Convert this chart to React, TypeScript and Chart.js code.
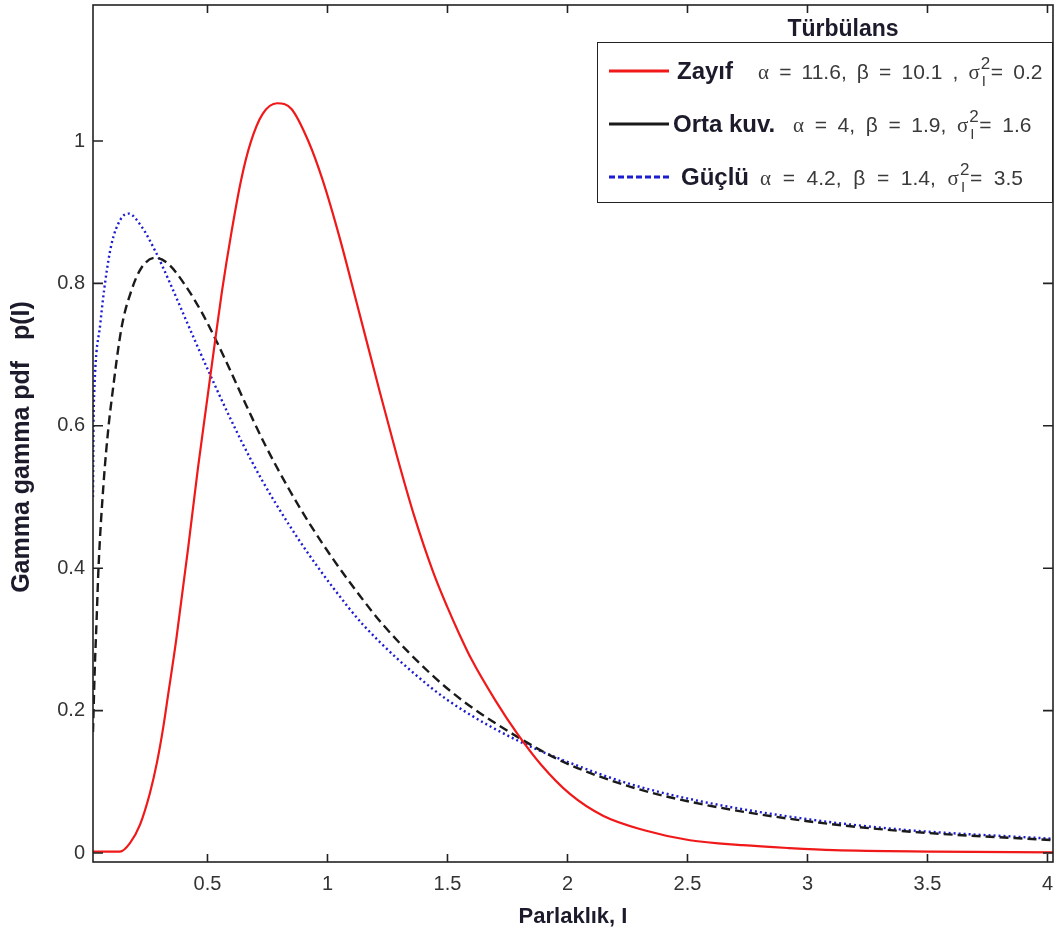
import React, { useEffect, useRef } from "react";
import { Chart, registerables } from "chart.js";

Chart.register(...registerables);

// ---------- data ----------
const xTicks = [0.5, 1, 1.5, 2, 2.5, 3, 3.5, 4];
const xTickLabels = ["0.5", "1", "1.5", "2", "2.5", "3", "3.5", "4"];
const yTicks = [0, 0.2, 0.4, 0.6, 0.8, 1];
const yTickLabels = ["0", "0.2", "0.4", "0.6", "0.8", "1"];

const seriesNames = ["Zayıf", "Orta kuv.", "Güçlü"];
const alphas = ["11.6", "4", "4.2"];
const betas = ["10.1", "1.9", "1.4"];
const sigmas = ["0.2", "1.6", "3.5"];

const xTitle = "Parlaklık, I";
const yTitle = "Gamma gamma pdf   p(I)";
const legendTitle = "Türbülans";

const zayifX = [0.023, 0.135, 0.177, 0.219, 0.26, 0.29, 0.315, 0.335, 0.37, 0.42, 0.46, 0.5, 0.53, 0.56, 0.6, 0.64, 0.68, 0.73, 0.79, 0.85, 0.92, 0.98, 1.05, 1.12, 1.22, 1.29, 1.36, 1.44, 1.5, 1.55, 1.6, 1.7, 1.79, 1.89, 2.01, 2.15, 2.32, 2.51, 2.73, 2.92, 3.11, 3.52, 4.023];
const zayifY = [0.002, 0.002, 0.014, 0.04, 0.084, 0.128, 0.175, 0.22, 0.3, 0.43, 0.54, 0.64, 0.715, 0.788, 0.872, 0.945, 0.998, 1.038, 1.053, 1.045, 1.0, 0.945, 0.865, 0.775, 0.645, 0.557, 0.475, 0.395, 0.345, 0.307, 0.272, 0.214, 0.168, 0.124, 0.083, 0.052, 0.032, 0.018, 0.011, 0.007, 0.004, 0.002, 0.001];

const ortaX = [0.023, 0.03, 0.038, 0.046, 0.067, 0.088, 0.1, 0.142, 0.183, 0.225, 0.283, 0.338, 0.408, 0.475, 0.533, 0.588, 0.642, 0.742, 0.838, 0.921, 1.025, 1.138, 1.233, 1.429, 1.567, 1.792, 1.983, 2.263, 2.554, 2.971, 3.388, 4.023];
const ortaY = [0.17, 0.255, 0.327, 0.401, 0.519, 0.6, 0.635, 0.738, 0.79, 0.822, 0.836, 0.827, 0.797, 0.76, 0.722, 0.683, 0.643, 0.572, 0.512, 0.465, 0.412, 0.36, 0.32, 0.252, 0.213, 0.163, 0.128, 0.093, 0.069, 0.046, 0.031, 0.018];

const gucluX = [0.023, 0.025, 0.028, 0.054, 0.075, 0.1, 0.138, 0.171, 0.225, 0.283, 0.338, 0.392, 0.45, 0.504, 0.558, 0.642, 0.725, 0.838, 0.921, 1.025, 1.15, 1.429, 1.567, 1.792, 2.0, 2.26, 2.55, 2.97, 3.39, 4.023];
const gucluY = [0.5, 0.6, 0.645, 0.745, 0.805, 0.855, 0.89, 0.898, 0.88, 0.845, 0.805, 0.763, 0.718, 0.677, 0.637, 0.578, 0.525, 0.462, 0.42, 0.372, 0.32, 0.233, 0.2, 0.158, 0.128, 0.097, 0.073, 0.049, 0.033, 0.02];

// ---------- styles ----------
const SANS = "'Liberation Sans', Arial, sans-serif";
const SERIF = "'Liberation Serif', 'DejaVu Serif', serif";
const seriesColors = ["#f01818", "#1a1a1a", "#1c1cd2"];
const TITLE_COLOR = "#1b1b2b";

const framePlugin = {
  id: "frameTicks",
  afterDatasetsDraw(chart: any) {
    const { ctx, chartArea: a, scales } = chart;
    ctx.save();
    ctx.strokeStyle = "#222";
    ctx.lineWidth = 1.6;
    ctx.strokeRect(a.left, a.top, a.right - a.left, a.bottom - a.top);
    ctx.beginPath();
    for (const v of xTicks) {
      const px = scales.x.getPixelForValue(v);
      ctx.moveTo(px, a.bottom);
      ctx.lineTo(px, a.bottom - 8);
      ctx.moveTo(px, a.top);
      ctx.lineTo(px, a.top + 8);
    }
    for (const v of yTicks) {
      const py = scales.y.getPixelForValue(v);
      ctx.moveTo(a.left, py);
      ctx.lineTo(a.left + 10, py);
      ctx.moveTo(a.right, py);
      ctx.lineTo(a.right - 10, py);
    }
    ctx.stroke();
    // y axis title
    ctx.translate(22, 447);
    ctx.rotate(-Math.PI / 2);
    ctx.font = "bold 25px " + SANS;
    ctx.fillStyle = TITLE_COLOR;
    ctx.textAlign = "center";
    ctx.textBaseline = "middle";
    ctx.fillText(yTitle, 0, 0);
    ctx.restore();
  },
};

function makeData(xs: number[], ys: number[]) {
  return xs.map((x, i) => ({ x, y: ys[i] }));
}

function LegendSample({ color, dash }: { color: string; dash?: string }) {
  return (
    <svg width={60} height={6} style={{ display: "block" }}>
      <line x1={0} y1={3} x2={60} y2={3} stroke={color} strokeWidth={3} strokeDasharray={dash} />
    </svg>
  );
}

const paramWordSpacing = [4.3, 4.8, 5.8];

function Params({ i }: { i: number }) {
  const comma = i === 0 ? " ," : ",";
  return (
    <span style={{ fontFamily: SANS, fontSize: 21, color: "#3a3a3a", wordSpacing: paramWordSpacing[i], whiteSpace: "pre" }}>
      <span style={{ fontFamily: SERIF }}>α</span> = {alphas[i]}, β = {betas[i]}{comma}{" "}
      <span style={{ fontFamily: SERIF }}>σ</span>
      <span style={{ display: "inline-block", position: "relative", width: 11, height: 10 }}>
        <span style={{ position: "absolute", left: 1, top: -14, fontSize: 17 }}>2</span>
        <span style={{ position: "absolute", left: 2, top: 4, fontSize: 15 }}>I</span>
      </span>
      = {sigmas[i]}
    </span>
  );
}

export default function App() {
  const ref = useRef<HTMLCanvasElement | null>(null);

  useEffect(() => {
    if (!ref.current) return;
    const common = { showLine: true, pointRadius: 0, cubicInterpolationMode: "monotone" };
    const chart = new Chart(ref.current, {
      type: "scatter",
      data: {
        datasets: [
          {
            ...common,
            label: seriesNames[0],
            data: makeData(zayifX, zayifY),
            borderColor: seriesColors[0],
            backgroundColor: seriesColors[0],
            borderWidth: 2.2,
          },
          {
            ...common,
            label: seriesNames[1],
            data: makeData(ortaX, ortaY),
            borderColor: seriesColors[1],
            backgroundColor: seriesColors[1],
            borderWidth: 2.4,
            borderDash: [9, 5],
          },
          {
            ...common,
            label: seriesNames[2],
            data: makeData(gucluX, gucluY),
            borderColor: seriesColors[2],
            backgroundColor: seriesColors[2],
            borderWidth: 2.4,
            borderDash: [2, 3],
          },
        ],
      },
      options: {
        animation: false,
        responsive: false,
        devicePixelRatio: 1,
        layout: { padding: { left: 0, top: 5, right: 10, bottom: 0 } },
        plugins: { legend: { display: false }, tooltip: { enabled: false } },
        scales: {
          x: {
            type: "linear",
            min: 0.023,
            max: 4.023,
            afterBuildTicks: (s: any) => {
              s.ticks = xTicks.map((v) => ({ value: v }));
            },
            afterFit: (s: any) => {
              s.height = 73;
              s.paddingLeft = 0;
              s.paddingRight = 0;
            },
            grid: { display: false, drawTicks: false },
            border: { display: false },
            ticks: {
              autoSkip: false,
              maxRotation: 0,
              padding: 10,
              color: "#333",
              font: { family: SANS, size: 20 },
              callback: (_v: any, i: number) => xTickLabels[i],
            },
            title: {
              display: true,
              text: xTitle,
              color: TITLE_COLOR,
              font: { family: SANS, size: 22, weight: "bold" },
              padding: { top: 0, bottom: 5 },
            },
          },
          y: {
            type: "linear",
            min: -0.0126,
            max: 1.191,
            afterBuildTicks: (s: any) => {
              s.ticks = yTicks.map((v) => ({ value: v }));
            },
            afterFit: (s: any) => {
              s.width = 93;
              s.paddingTop = 0;
              s.paddingBottom = 0;
            },
            grid: { display: false, drawTicks: false },
            border: { display: false },
            ticks: {
              autoSkip: false,
              padding: 8,
              color: "#333",
              font: { family: SANS, size: 20 },
              callback: (_v: any, i: number) => yTickLabels[i],
            },
            title: { display: false },
          },
        },
      },
      plugins: [framePlugin],
    } as any);
    return () => chart.destroy();
  }, []);

  const rowY = [71, 124, 177];
  const labelX = [677, 673, 681];
  const paramX = [758, 793, 760];
  const dashes = [undefined, undefined, "6 3"];

  return (
    <div style={{ position: "fixed", left: 0, top: 0, width: 1063, height: 935, background: "#fff" }}>
      <canvas ref={ref} width={1063} height={935} style={{ width: 1063, height: 935, display: "block" }} />
      <div
        style={{
          position: "absolute",
          left: 843,
          top: 28,
          transform: "translate(-50%, -50%)",
          fontFamily: SANS,
          fontWeight: "bold",
          fontSize: 23,
          color: TITLE_COLOR,
          lineHeight: 1,
          whiteSpace: "nowrap",
        }}
      >
        {legendTitle}
      </div>
      <div
        style={{
          position: "absolute",
          left: 597,
          top: 42,
          width: 456,
          height: 161,
          boxSizing: "border-box",
          border: "1.6px solid #222",
          background: "#fff",
        }}
      />
      {seriesNames.map((name, i) => (
        <React.Fragment key={name}>
          <div style={{ position: "absolute", left: 609, top: rowY[i] - 3 }}>
            <LegendSample color={seriesColors[i]} dash={dashes[i]} />
          </div>
          <div
            style={{
              position: "absolute",
              left: labelX[i],
              top: rowY[i],
              transform: "translateY(-50%)",
              fontFamily: SANS,
              fontWeight: "bold",
              fontSize: 24,
              color: TITLE_COLOR,
              lineHeight: 1,
              whiteSpace: "nowrap",
            }}
          >
            {name}
          </div>
          <div
            style={{
              position: "absolute",
              left: paramX[i],
              top: rowY[i] + 1,
              transform: "translateY(-50%)",
              lineHeight: 1,
              whiteSpace: "nowrap",
            }}
          >
            <Params i={i} />
          </div>
        </React.Fragment>
      ))}
    </div>
  );
}
